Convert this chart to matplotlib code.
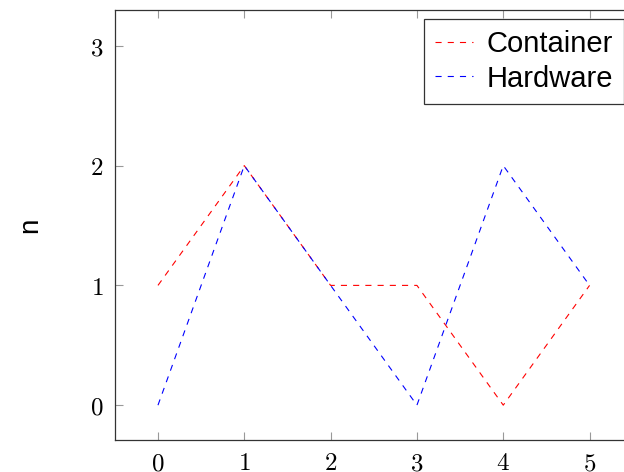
import matplotlib.pyplot as plt

plt.rcParams['mathtext.fontset'] = 'cm'

x = [0, 1, 2, 3, 4, 5]
container = [1, 2, 1, 1, 0, 1]
hardware = [0, 2, 1, 0, 2, 1]
xticks = [0, 1, 2, 3, 4, 5]
yticks = [0, 1, 2, 3]

fig = plt.figure(figsize=(6.24, 4.72), dpi=100)
ax = fig.add_axes([0.184, 0.068, 0.830, 0.911])

ax.plot(x, container, color='red', lw=0.8, dashes=(5.5, 5.5), label='Container')
ax.plot(x, hardware, color='blue', lw=0.8, dashes=(5.5, 5.5), label='Hardware')

ax.set_xlim(-0.5, 5.5)
ax.set_ylim(-0.29, 3.3)
ax.set_xticks(xticks)
ax.set_xticklabels([f'${t}$' for t in xticks], fontsize=18)
ax.set_yticks(yticks)
ax.set_yticklabels([f'${t}$' for t in yticks], fontsize=18)
ax.tick_params(direction='in', length=6, color='#999999', width=0.8,
               top=True, right=True, pad=8)
for s in ax.spines.values():
    s.set_color('#333333')
    s.set_linewidth(0.9)

ax.set_ylabel('n', family='Liberation Sans', fontsize=20, labelpad=34)

leg = ax.legend(loc='upper right', bbox_to_anchor=(0.984, 0.98),
                prop={'family': 'Liberation Sans', 'size': 21},
                frameon=True, fancybox=False, edgecolor='black',
                handlelength=1.3, handletextpad=0.45, borderaxespad=0,
                labelspacing=0.22, borderpad=0.4)
leg.get_frame().set_linewidth(0.9)

fig.savefig('out.png', dpi=100)
